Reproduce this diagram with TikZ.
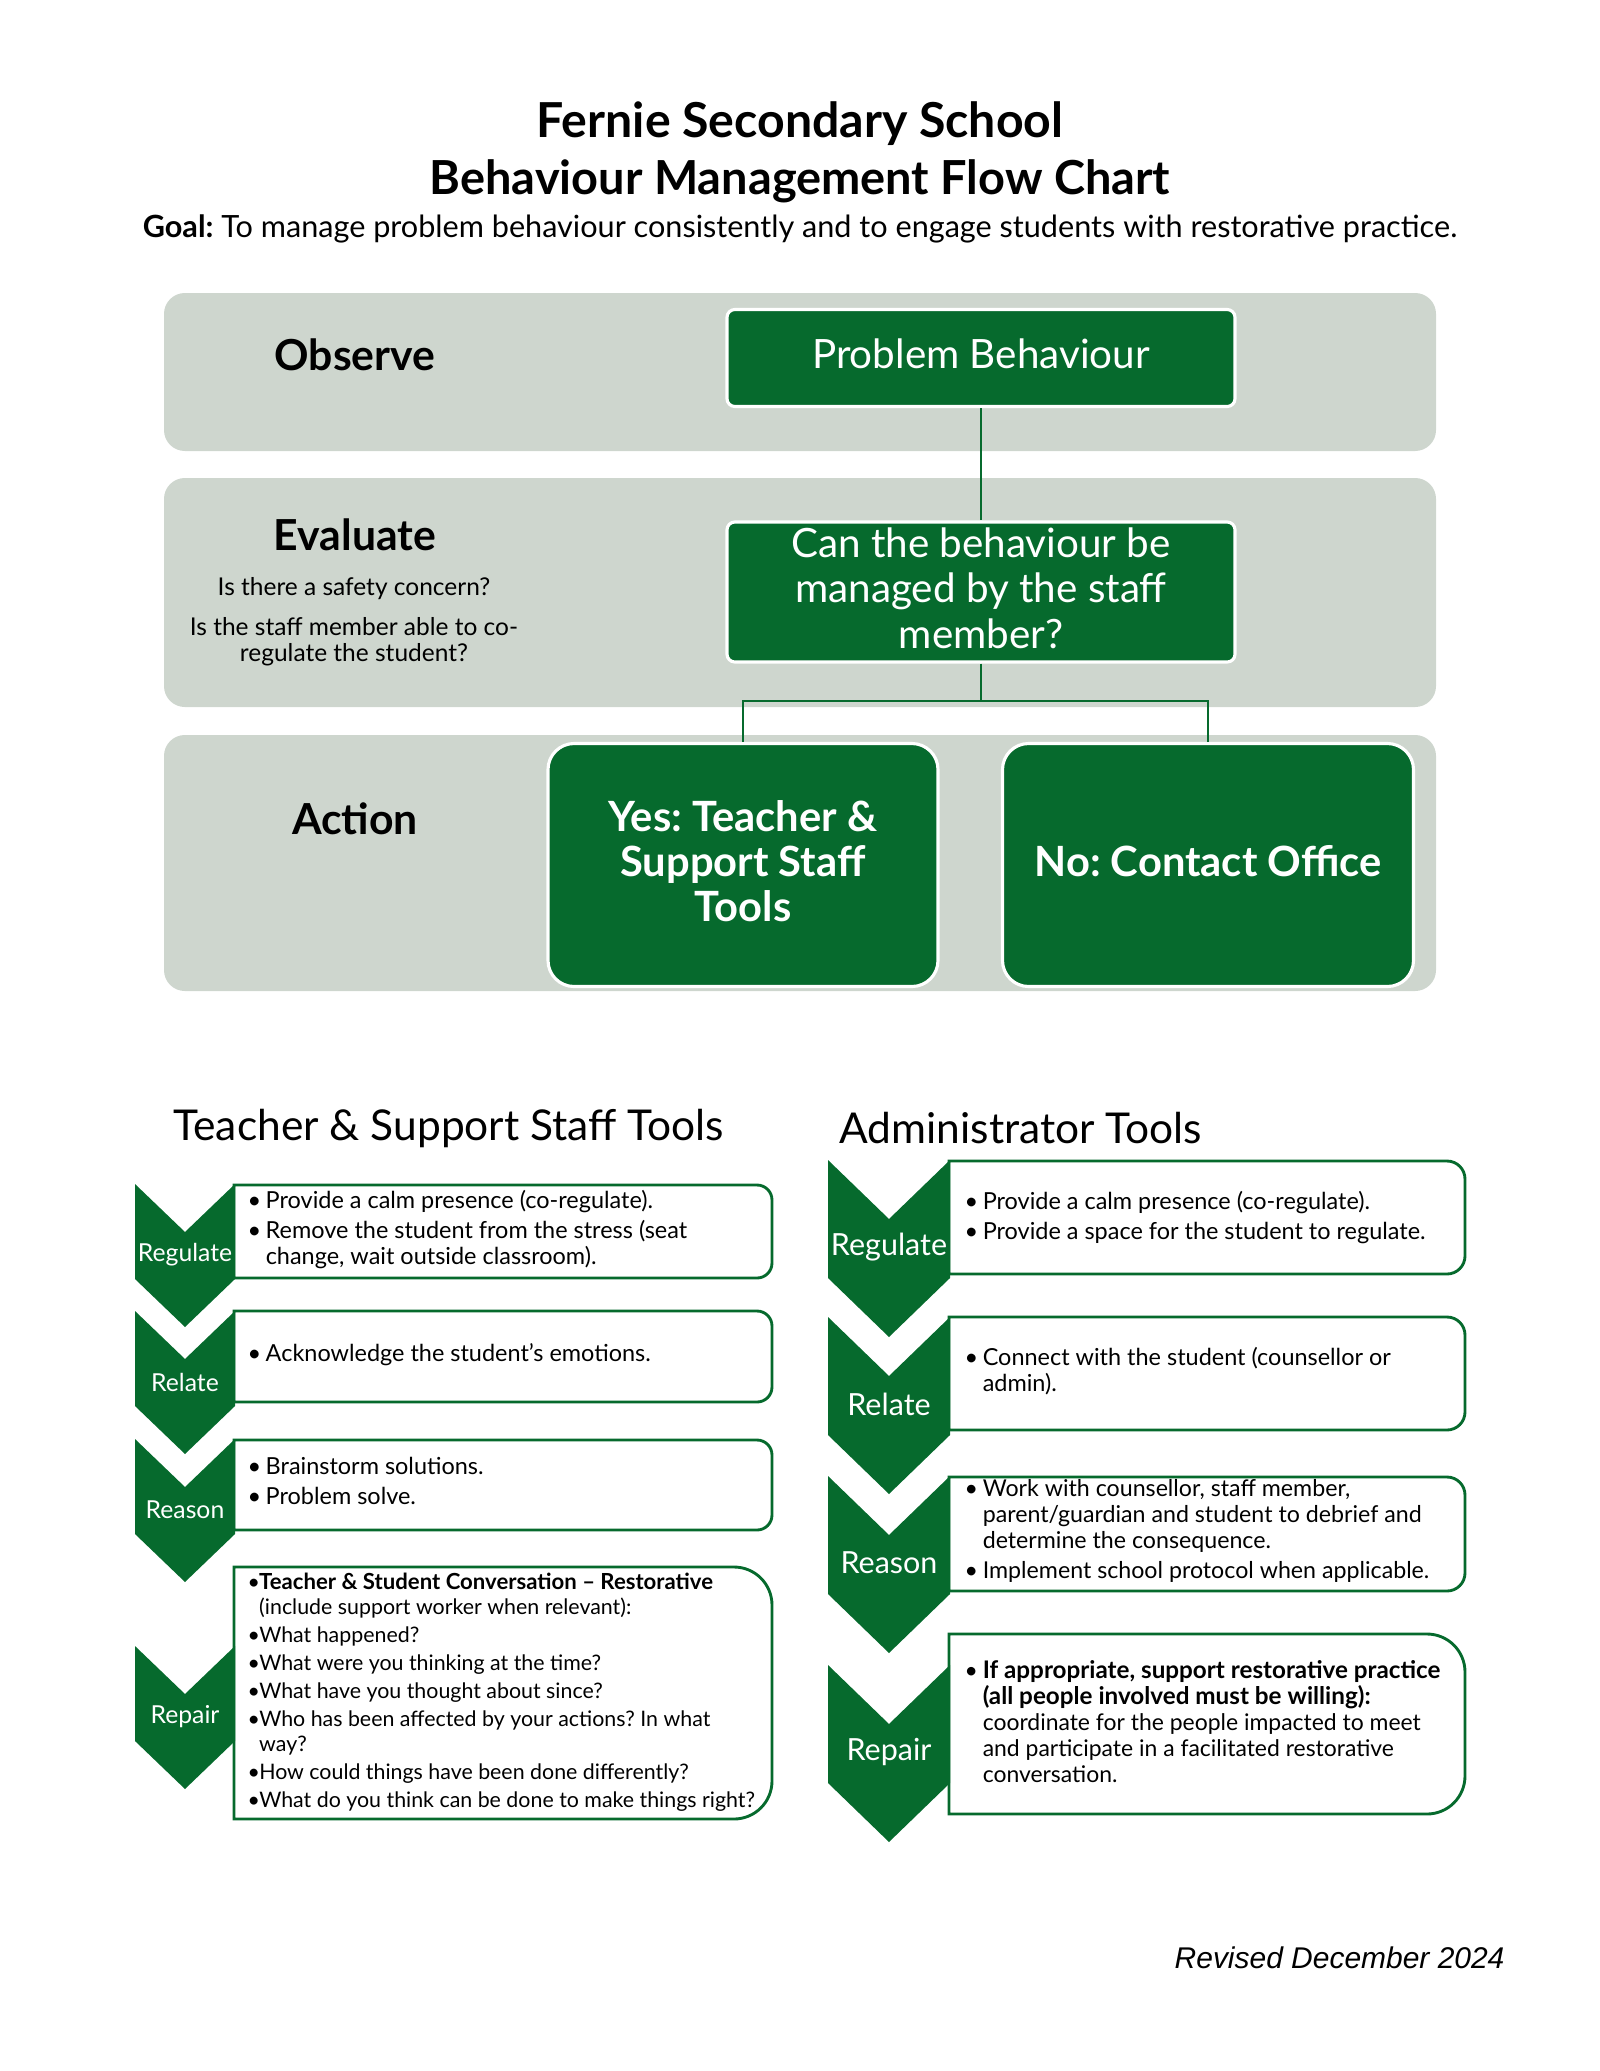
\documentclass[tikz,border=0pt]{standalone}
\usepackage{fontspec}
\setmainfont{Lato}
\newfontfamily\revfont{Liberation Sans}
\usetikzlibrary{positioning}
\definecolor{fsgreen}{RGB}{6,106,45}
\definecolor{bandgray}{RGB}{206,214,206}
\newcommand{\px}{0.013494cm}
\newcommand{\itm}{\makebox[7pt][l]{\textbullet}}
\newcommand{\ind}{\hspace*{7pt}}
\newcommand{\itmb}{\makebox[4.5pt][l]{\textbullet}}
\newcommand{\indb}{\hspace*{4.5pt}}
\frenchspacing

\begin{document}
\begin{tikzpicture}[x=\px, y=-\px,
    flowbox/.style={draw=white, line width=1.2pt, fill=fsgreen, text=white, rounded corners=3pt, align=center, text depth=3pt, inner ysep=1pt, minimum width=508*\px},
    bigbox/.style={draw=white, line width=1.2pt, fill=fsgreen, text=white, rounded corners=10pt, align=center, text depth=3pt, minimum height=243*\px, font=\fontsize{16}{17.3}\selectfont\bfseries},
    stagelbl/.style={font=\fontsize{16.4}{19}\selectfont\bfseries},
    qtext/.style={font=\fontsize{9.4}{10}\selectfont, align=center},
    link/.style={draw=fsgreen, line width=0.8pt},
    toolhead/.style={anchor=west, inner sep=0pt, font=\fontsize{16.3}{19}\selectfont},
    tbox/.style={draw=fsgreen, line width=1.1pt, fill=white},
    btext/.style={anchor=north west, inner sep=0pt, align=left, font=\fontsize{9}{10}\selectfont},
    lchevlbl/.style={text=white, font=\fontsize{9.5}{11}\selectfont},
    rchevlbl/.style={text=white, font=\fontsize{11.7}{13}\selectfont},
    lchev/.pic={\fill[fsgreen] (-50,0) -- (0,48) -- (50,0) -- (50,95) -- (0,143) -- (-50,95) -- cycle;},
    rchev/.pic={\fill[fsgreen] (-61,0) -- (0,59) -- (61,0) -- (61,118) -- (0,177) -- (-61,118) -- cycle;}]
    \useasboundingbox (0,0) rectangle (1600,2071);

    \node[font=\fontsize{18.5}{21}\selectfont\bfseries] (title1) at (800,124) {Fernie Secondary School};
    \node[font=\fontsize{18}{21}\selectfont\bfseries] (title2) at (800,181) {Behaviour Management Flow Chart};
    \node[font=\fontsize{11.75}{14}\selectfont] (goal) at (800,229) {\textbf{Goal:} To manage problem behaviour consistently and to engage students with restorative practice.};

    \fill[bandgray, rounded corners=8pt] (164,293) rectangle (1436,451);
    \fill[bandgray, rounded corners=8pt] (164,478) rectangle (1436,707);
    \fill[bandgray, rounded corners=8pt] (164,735) rectangle (1436,991);

    \node[stagelbl] (observe) at (355,355) {Observe};
    \node[stagelbl] (evaluate) at (355,535) {Evaluate};
    \node[stagelbl] (action) at (355,819) {Action};
    \node[qtext] (q1) at (354,589) {Is there a safety concern?};
    \node[qtext] (q2) at (354,642) {Is the staff member able to co-\\regulate the student?};

    \node[flowbox, minimum height=97*\px, font=\fontsize{15.5}{17}\selectfont] (prob) at (981,358) {Problem Behaviour};
    \node[flowbox, minimum height=140*\px, font=\fontsize{15.5}{17.5}\selectfont] (decide) at (981,592) {Can the behaviour be\\managed by the staff\\member?};
    \node[bigbox, minimum width=390*\px] (yes) at (743,865) {Yes: Teacher \&\\Support Staff\\Tools};
    \node[bigbox, minimum width=411*\px] (no) at (1208,865) {No: Contact Office};
    \coordinate (split) at (981,701);
    \draw[link] (prob) -- (decide);
    \draw[link] (decide) -- (split);
    \draw[link] (split) -| (yes);
    \draw[link] (split) -| (no);

    \node[toolhead] (thead) at (173,1128) {Teacher \& Support Staff Tools};
    \node[toolhead] (ahead) at (839,1128) {Administrator Tools};

    \foreach \t/\b/\r in {1185/1278/15, 1311/1402/15, 1440/1530/15, 1567/1819/38}
        \draw[tbox] (234,\t) -- (772-\r,\t) arc(-90:0:\r) -- (772,\b-\r) arc(0:90:\r) -- (234,\b) -- cycle;
    \foreach \t/\b/\r in {1161/1274/18, 1317/1430/18, 1477/1591/18, 1634/1814/38}
        \draw[tbox] (949,\t) -- (1465-\r,\t) arc(-90:0:\r) -- (1465,\b-\r) arc(0:90:\r) -- (949,\b) -- cycle;

    \foreach \y in {1184,1311,1439,1646}
        \pic at (185,\y) {lchev};
    \foreach \y in {1160,1317,1476,1665}
        \pic at (889,\y) {rchev};
    \foreach \y/\t [count=\i] in {1255/Regulate, 1382/Relate, 1510/Reason, 1717/Repair}
        \node[lchevlbl] (lc\i) at (185,\y) {\t};
    \foreach \y/\t [count=\i] in {1247/Regulate, 1404/Relate, 1563/Reason, 1752/Repair}
        \node[rchevlbl] (rc\i) at (889,\y) {\t};

    \node[btext] (lreg) at (247,1190) {\itm Provide a calm presence (co-regulate).\\[1.5pt]\itm Remove the student from the stress (seat\\\ind change, wait outside classroom).};
    \node[btext] (lrel) at (247,1343) {\itm Acknowledge the student’s emotions.};
    \node[btext] (lrea) at (247,1457) {\itm Brainstorm solutions.\\[1.5pt]\itm Problem solve.};
    \node[btext, font=\fontsize{8.2}{9.6}\selectfont] (lrep) at (247,1572) {\itmb{\fontsize{8.5}{9.6}\selectfont\bfseries Teacher \& Student Conversation – Restorative}\\\indb(include support worker when relevant):\\[1.2pt]\itmb What happened?\\[1.2pt]\itmb What were you thinking at the time?\\[1.2pt]\itmb What have you thought about since?\\[1.2pt]\itmb Who has been affected by your actions? In what\\\indb way?\\[1.2pt]\itmb How could things have been done differently?\\[1.2pt]\itmb What do you think can be done to make things right?};

    \node[btext] (rreg) at (964,1191) {\itm Provide a calm presence (co-regulate).\\[1.5pt]\itm Provide a space for the student to regulate.};
    \node[btext] (rrel) at (964,1347) {\itm Connect with the student (counsellor or\\\ind admin).};
    \node[btext, font=\fontsize{8.9}{10}\selectfont] (rrea) at (964,1479) {\itm Work with counsellor, staff member,\\\ind parent/guardian and student to debrief and\\\ind determine the consequence.\\[1.5pt]\itm Implement school protocol when applicable.};
    \node[btext, font=\fontsize{8.8}{10}\selectfont] (rrep) at (964,1660) {\itm{\fontsize{9.3}{10}\selectfont\bfseries If appropriate, support restorative practice}\\\ind{\fontsize{9.3}{10}\selectfont\bfseries (all people involved must be willing):}\\\ind coordinate for the people impacted to meet\\\ind and participate in a facilitated restorative\\\ind conversation.};

    \node[anchor=east, inner sep=0pt, font=\revfont\itshape\fontsize{11.5}{14}\selectfont] (rev) at (1505,1958) {Revised December 2024};
\end{tikzpicture}
\end{document}
